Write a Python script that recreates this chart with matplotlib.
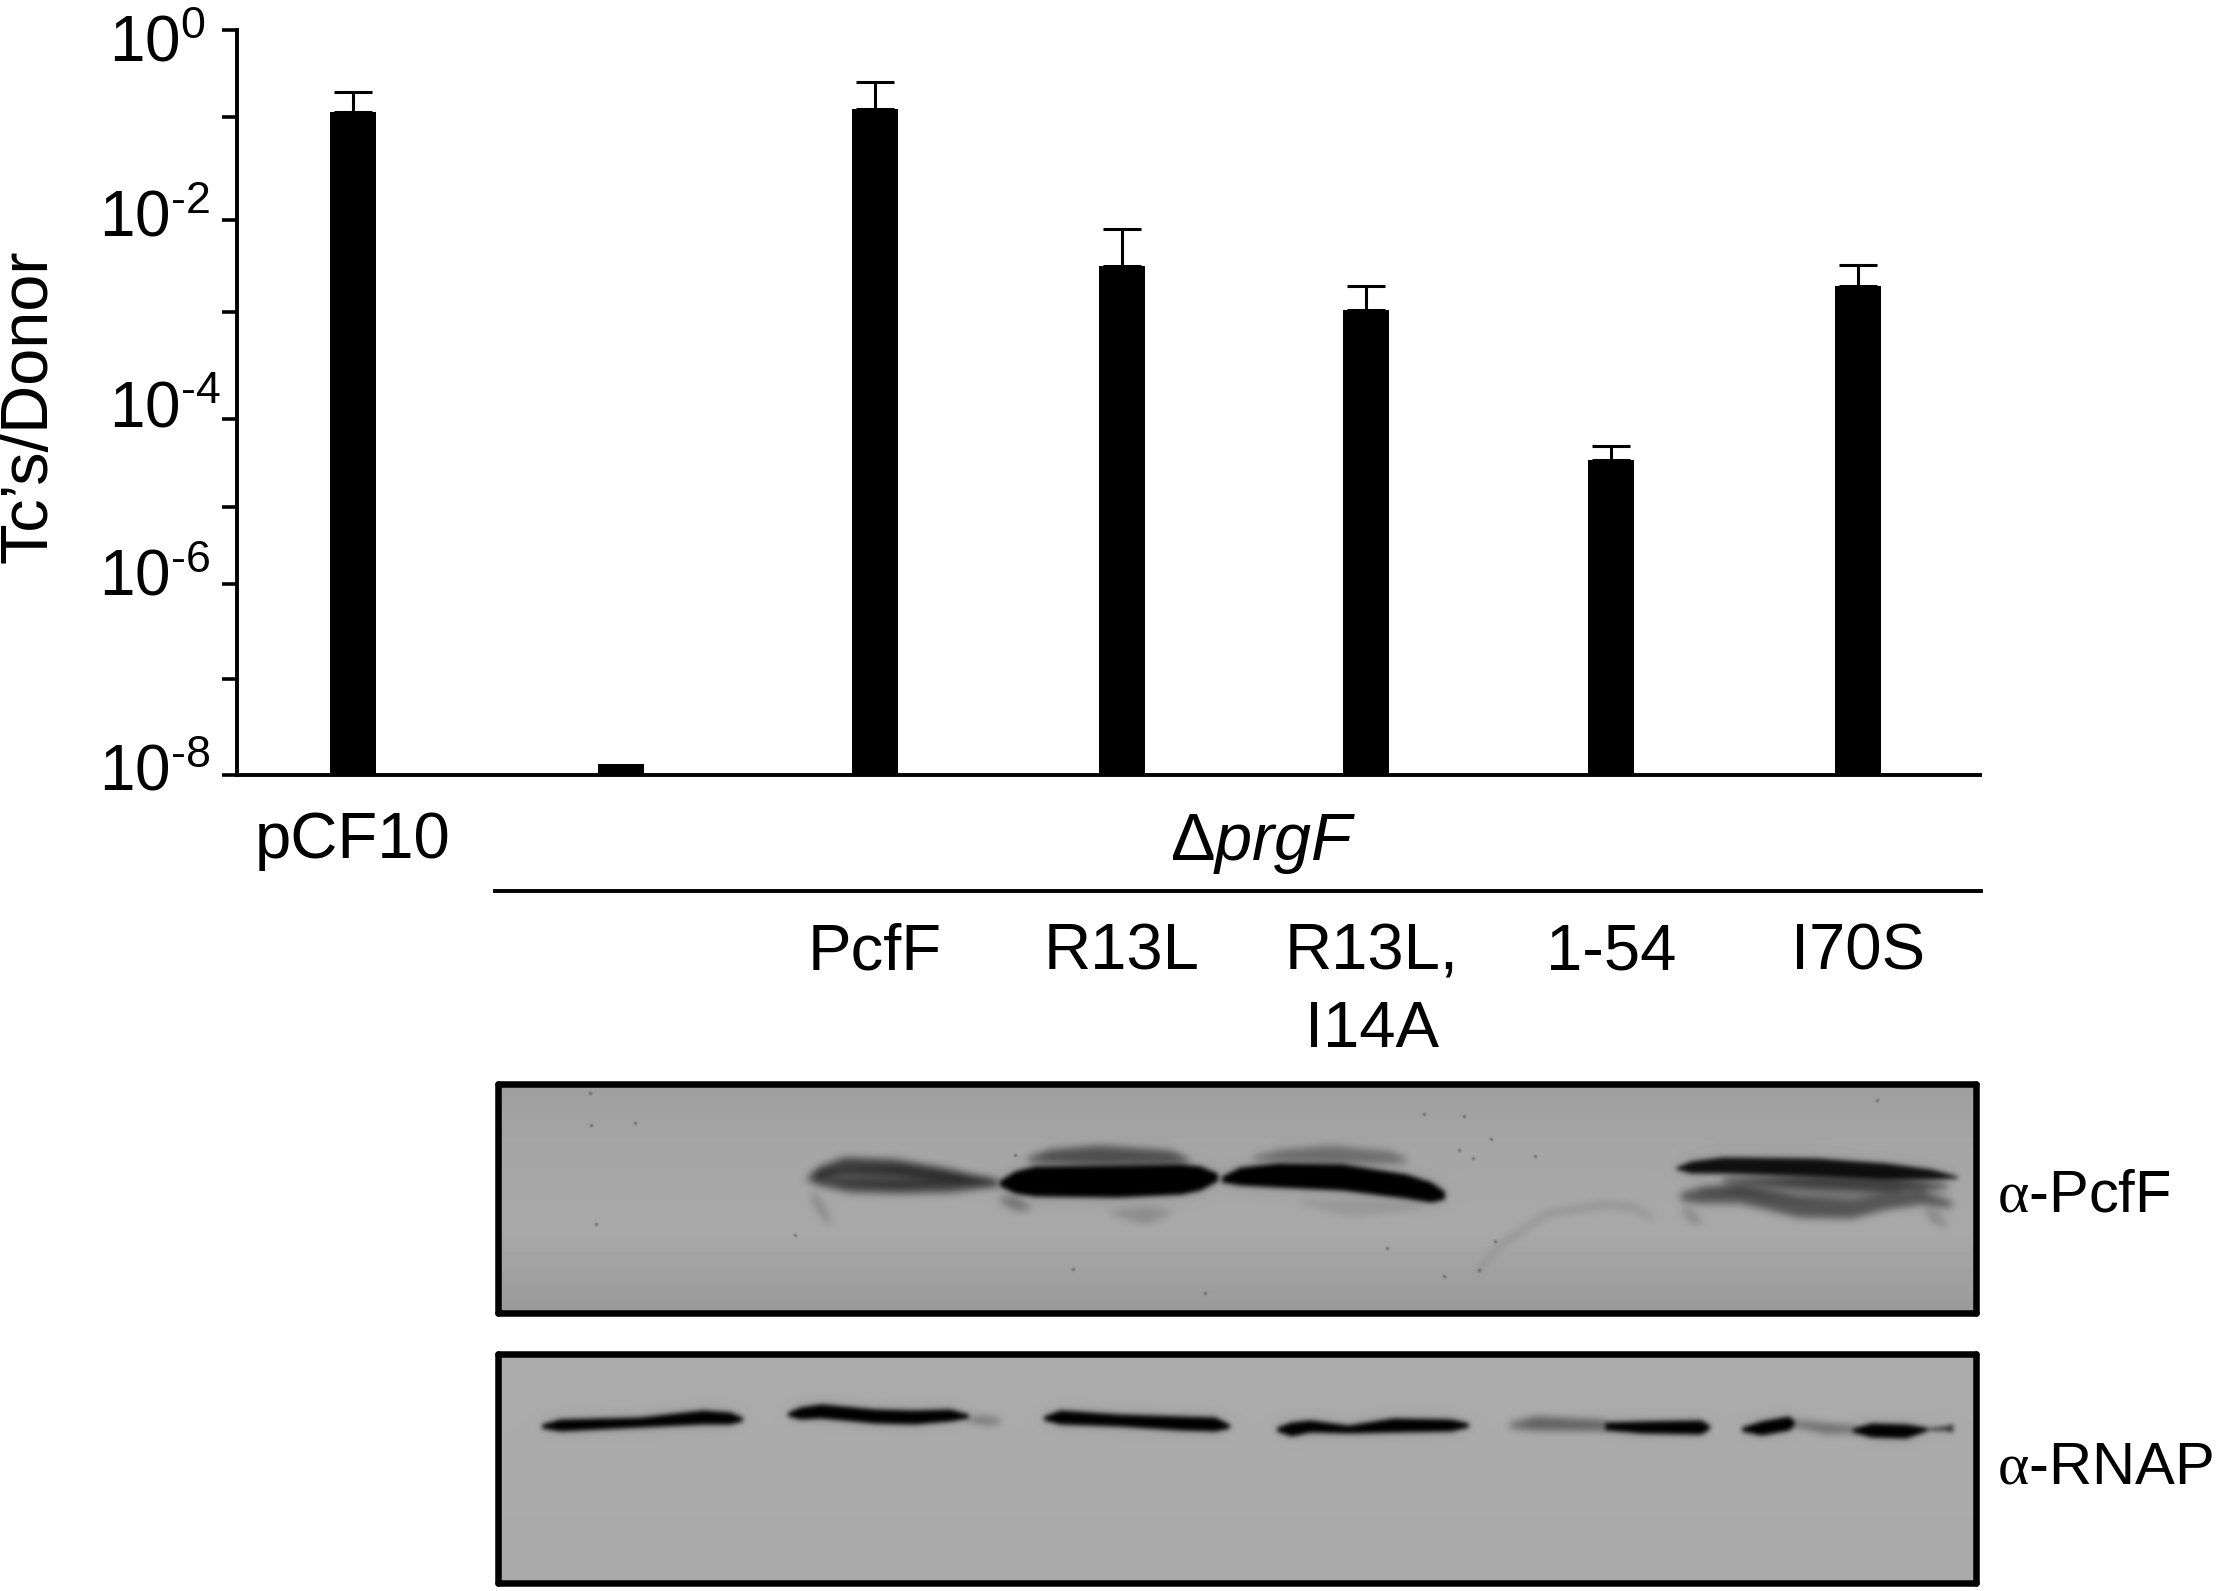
import numpy as np
import matplotlib
matplotlib.use("Agg")
import matplotlib.pyplot as plt
from matplotlib.lines import Line2D
from matplotlib.ticker import NullLocator
from matplotlib.transforms import ScaledTranslation

W, H, DPI = 2218, 1591, 100
plt.rcParams.update({
    "font.family": "Liberation Sans",
    "mathtext.fontset": "custom",
    "mathtext.rm": "Liberation Sans",
    "mathtext.it": "Liberation Sans:italic",
    "mathtext.cal": "Liberation Serif",
    "mathtext.default": "regular",
})

# ---------- data ----------
strains = ["pCF10", "", "PcfF", "R13L", "R13L,\nI14A", "1-54", "I70S"]
transfer = [0.132, 1.3e-8, 0.142, 2.9e-3, 9.85e-4, 2.4e-5, 1.78e-3]
upper = [0.216, 1.3e-8, 0.277, 7.3e-3, 1.78e-3, 3.4e-5, 3.0e-3]
has_error = [True, False, True, True, True, True, True]
lane_pos = [0, 1.069, 2.081, 3.066, 4.039, 5.016, 6.0]
# the original drawing's tick marks are not evenly spaced
tick_exp = [0, -0.93, -2.04, -3.03, -4.18, -5.12, -5.95, -6.97, -8]
tick_text = [r"$10^{0}$", "", r"$10^{\text{-}2}$", "", r"$10^{\text{-}4}$", "",
             r"$10^{\text{-}6}$", "", r"$10^{\text{-}8}$"]
# per-label shift in pixels (right, down) as the labels sit in the original
tick_shift = [(-16, 32), (0, 0), (-11, 16.5), (0, 0), (0, 8.7), (0, 0),
              (-11, 11), (0, 0), (-11, 15.5)]

# western blot bands: x, y centre, half thickness (pixels), darkness
pcff_bands = [
    ([806, 820, 844, 895, 946, 998], [1180, 1172, 1165, 1167, 1174, 1182], [1, 6, 8, 8, 6, 1], 0.62),
    ([815, 850, 900, 950, 998], [1182, 1185, 1186, 1186, 1184], [2, 7, 7, 6, 2], 0.55),
    ([812, 900, 995], [1176, 1177, 1180], [6, 11, 3], 0.35),
    ([812, 822, 830], [1195, 1210, 1222], [5, 8, 2], 0.20),
    ([1000, 1015, 1035, 1118, 1181, 1200, 1217], [1183, 1182, 1181, 1181, 1179, 1178, 1177], [3, 11, 15, 16, 15, 12, 4], 1.0),
    ([1028, 1050, 1100, 1170, 1188], [1159, 1156, 1155, 1157, 1160], [2, 7, 10, 7, 2], 0.52),
    ([1000, 1015, 1030], [1199, 1203, 1208], [3, 7, 2], 0.30),
    ([1110, 1145, 1170], [1212, 1215, 1212], [2, 9, 2], 0.16),
    ([1222, 1240, 1277, 1341, 1405, 1430, 1443], [1179, 1176, 1175, 1177, 1186, 1192, 1195], [3, 9, 12, 13, 12, 10, 4], 1.0),
    ([1252, 1280, 1330, 1390, 1405], [1158, 1155, 1154, 1157, 1160], [2, 6, 9, 6, 2], 0.34),
    ([1300, 1350, 1420], [1202, 1208, 1206], [2, 8, 2], 0.10),
    ([1675, 1690, 1722, 1815, 1885, 1930, 1956], [1168, 1167, 1165, 1167, 1171, 1174, 1177], [1, 6, 8, 9, 8, 5, 1], 0.90),
    ([1722, 1815, 1885, 1945], [1180, 1181, 1183, 1186], [2, 7, 8, 2], 0.60),
    ([1680, 1700, 1739, 1798, 1850, 1885, 1920, 1950], [1196, 1195, 1194, 1207, 1208, 1201, 1197, 1204], [4, 8, 9, 10, 10, 8, 7, 3], 0.50),
    ([1700, 1800, 1900], [1188, 1192, 1190], [2, 9, 2], 0.25),
    ([1682, 1690, 1700], [1210, 1216, 1222], [4, 7, 2], 0.18),
    ([1925, 1935, 1945], [1212, 1217, 1225], [3, 7, 2], 0.20),
    ([1476, 1499, 1546, 1604, 1632, 1651], [1271, 1244, 1213, 1204, 1207, 1218], [3, 3, 3, 3, 3, 3], 0.14),
]
rnap_bands = [
    ([542, 560, 640, 703, 730, 742], [1426, 1425, 1422, 1417, 1418, 1419], [2, 6, 5, 7, 6, 2], 1.0),
    ([788, 800, 821, 875, 914, 950, 968], [1414, 1413, 1411, 1416, 1417, 1415, 1416], [2, 6, 7, 7, 7, 6, 2], 1.0),
    ([968, 985, 1000], [1419, 1420, 1421], [2, 4, 2], 0.35),
    ([1044, 1060, 1118, 1181, 1215, 1229], [1418, 1417, 1420, 1423, 1424, 1426], [2, 7, 6, 7, 7, 2], 1.0),
    ([1276, 1290, 1309, 1347, 1392, 1450, 1467], [1429, 1429, 1426, 1429, 1425, 1425, 1425], [2, 7, 6, 4, 7, 6, 2], 1.0),
    ([1508, 1535, 1604], [1425, 1423, 1425], [2, 7, 5], 0.45),
    ([1604, 1640, 1700, 1708], [1426, 1427, 1427, 1427], [4, 6, 7, 2], 1.0),
    ([1741, 1760, 1788, 1793], [1429, 1428, 1423, 1423], [2, 7, 7, 2], 1.0),
    ([1793, 1825, 1855], [1423, 1428, 1429], [3, 5, 3], 0.40),
    ([1852, 1870, 1905, 1925], [1430, 1430, 1431, 1429], [2, 7, 7, 2], 1.0),
    ([1925, 1945, 1951], [1429, 1428, 1428], [1, 2, 4], 0.8),
]
pcff_specks = [(1015, 1155), (635, 1123), (596, 1224), (795, 1235), (1073, 1269), (1205, 1293),
               (1386, 1248), (1443, 1276), (1423, 1114), (1463, 1116), (1458, 1150), (1490, 1139),
               (1472, 1158), (1534, 1156), (1494, 1241), (1876, 1100), (1478, 1270), (591, 1125), (590, 1093)]

PCFF_BG = [(1084, 0.62), (1150, 0.65), (1230, 0.66), (1314, 0.60)]
RNAP_BG = [(1354, 0.675), (1583, 0.665)]


def fx(px):
    return px / W


def fy(py):
    return 1 - py / H


def rect(x0, x1, y0, y1):
    return [fx(x0), fy(y1), fx(x1) - fx(x0), fy(y0) - fy(y1)]


fig = plt.figure(figsize=(W / DPI, H / DPI), dpi=DPI, facecolor="white")

# ---------- bar chart ----------
BASE = 1e-8
ax = fig.add_axes(rect(236.6, 1980, 30, 775))
ax.set_yscale("log")
ax.set_ylim(BASE, 1)
ax.set_xlim(-0.464, 6.487)
ax.bar(lane_pos, [v - BASE for v in transfer], width=0.183, bottom=BASE, color="black", zorder=2)
for x, v, u, e in zip(lane_pos, transfer, upper, has_error):
    if e:
        ax.errorbar(x, v, yerr=[[0], [u - v]], color="black", elinewidth=2.2,
                    capsize=14, capthick=2.2, zorder=1)
for s in ("top", "right"):
    ax.spines[s].set_visible(False)
for s in ("left", "bottom"):
    ax.spines[s].set_linewidth(2.8)
ax.set_yticks([10.0 ** e for e in tick_exp], tick_text)
ax.yaxis.set_minor_locator(NullLocator())
ax.tick_params(axis="y", length=11, width=2.6, pad=0, labelsize=46)
ax.set_xticks(lane_pos, strains)
ax.tick_params(axis="x", length=0, pad=106, labelsize=47)
for lab, (dx, dy) in zip(ax.get_yticklabels(), tick_shift):
    lab.set_verticalalignment("baseline")
    lab.set_transform(lab.get_transform() + ScaledTranslation(dx / DPI, -dy / DPI, fig.dpi_scale_trans))
first = ax.get_xticklabels()[0]
first.set_transform(first.get_transform() + ScaledTranslation(0, 111 / DPI, fig.dpi_scale_trans))
double = ax.get_xticklabels()[4]
double.set_linespacing(1.38)
double.set_transform(double.get_transform() + ScaledTranslation(6 / DPI, 0, fig.dpi_scale_trans))

fig.text(fx(30), fy(406), "Tc’s/Donor", rotation=90, fontsize=48, ha="center", va="center")
fig.text(fx(1263), fy(860), r"Δ$\mathit{prgF}$", fontsize=48, ha="center", va="baseline")
fig.add_artist(Line2D([fx(495), fx(1981)], [fy(891), fy(891)], color="black", lw=2.8,
                      transform=fig.transFigure))


# ---------- blots ----------
def blur(img, sigma):
    r = int(3 * sigma)
    k = np.exp(-0.5 * (np.arange(-r, r + 1) / sigma) ** 2)
    k /= k.sum()
    pad = np.pad(img, r, mode="edge")
    pad = np.apply_along_axis(lambda m: np.convolve(m, k, mode="same"), 0, pad)
    pad = np.apply_along_axis(lambda m: np.convolve(m, k, mode="same"), 1, pad)
    return pad[r:-r, r:-r]


def blot(x0, x1, y0, y1, bg, bands, specks=()):
    xs = np.arange(int(x0), int(x1))
    ys = np.arange(int(y0), int(y1))
    XX, YY = np.meshgrid(xs, ys)
    base = np.interp(YY, [b[0] for b in bg], [b[1] for b in bg])
    sharp = np.ones_like(base)
    soft = np.ones_like(base)
    for bx, by, bh, dark in bands:
        inside = (XX >= bx[0]) & (XX <= bx[-1])
        yc = np.interp(XX, bx, by)
        hw = np.interp(XX, bx, bh)
        prof = np.clip(hw - np.abs(YY - yc) + 0.5, 0, 1) * inside
        if dark > 0.75:
            sharp *= 1 - dark * prof
        else:
            soft *= 1 - dark * prof
    trans = blur(sharp, 2.4) * blur(soft, 4.0) * (0.85 + 0.15 * blur(sharp, 8.0))
    for sx, sy in specks:
        d2 = (XX - sx) ** 2 + (YY - sy) ** 2
        trans *= 1 - 0.3 * np.exp(-d2 / 3.0)
    return base * trans


def panel(y0, y1, bg, bands, specks=()):
    x0, x1 = 498, 1975.5
    a = fig.add_axes(rect(x0, x1, y0, y1))
    a.imshow(blot(x0, x1, y0, y1, bg, bands, specks), cmap="gray", vmin=0, vmax=1,
             aspect="auto", interpolation="nearest", extent=(x0, x1, y1, y0))
    a.set_xticks([])
    a.set_yticks([])
    for s in a.spines.values():
        s.set_linewidth(4.7)
        s.set_capstyle("round")
    return a


panel(1083.7, 1313, PCFF_BG, pcff_bands, pcff_specks)
panel(1353.5, 1583, RNAP_BG, rnap_bands)

fig.text(fx(1997), fy(1212), r"$\mathcal{α}$-PcfF", fontsize=43, va="baseline")
fig.text(fx(1997), fy(1483.5), r"$\mathcal{α}$-RNAP", fontsize=43, va="baseline")

fig.savefig("out.png", dpi=DPI, facecolor="white")
